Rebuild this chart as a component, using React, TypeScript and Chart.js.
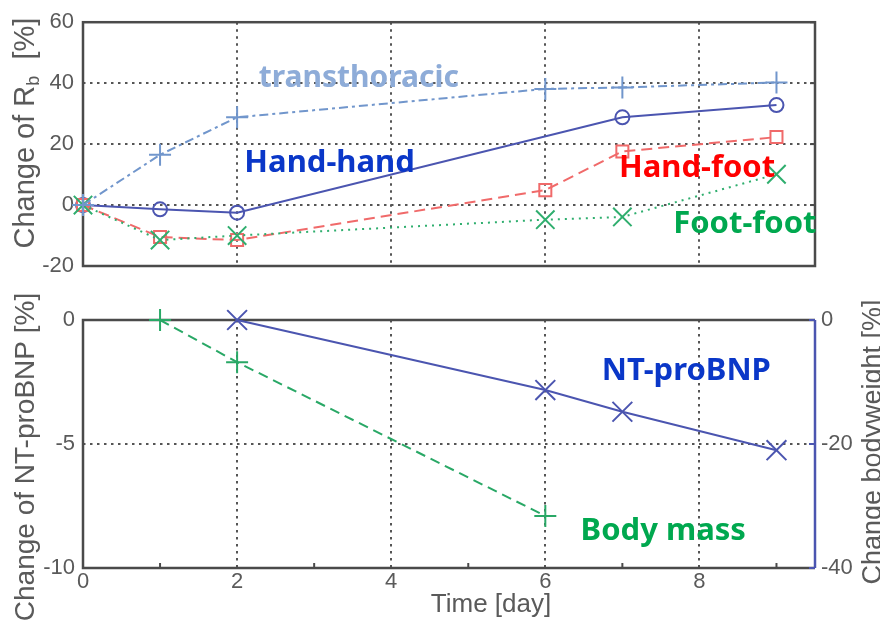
import React, { useEffect, useRef } from "react";
import { Chart, registerables } from "chart.js";

Chart.register(...registerables);

// ---------------- data ----------------
const topDays = [0, 1, 2, 6, 7, 9];
const transthoracic = [0, 16.5, 28.8, 38.1, 38.6, 40.2];
const handHand: (number | null)[] = [0, -1.4, -2.5, null, 28.8, 32.8];
const handFoot = [0, -10.5, -11.5, 4.9, 17.6, 22.3];
const footFoot = [0, -11.5, -10, -4.8, -3.9, 10.1];

const bodyMassDays = [1, 2, 6];
const bodyMass = [0, -1.7, -7.9];
const ntDays = [2, 6, 7, 9];
const ntProBNP = [0, -11.3, -14.8, -21];

const xTickValues = [0, 2, 4, 6, 8];
const xMinorTickValues = [1, 3, 5, 7, 9];
const topYTickValues = [-20, 0, 20, 40, 60];
const leftYTickValues = [-10, -5, 0];
const rightYTickValues = [-40, -20, 0];

const topLabelTexts = ["transthoracic", "Hand-hand", "Hand-foot", "Foot-foot"];
const topLabelX = [3.58, 3.2, 7.97, 8.59];
const topLabelY = [38.9, 10.7, 9.1, -9.1];
const topLabelSizes = [30, 31, 31, 31];
const bottomLabelTexts = ["NT-proBNP", "Body mass"];
const bottomLabelX = [7.83, 7.53];
const bottomLabelY = [-2.42, -8.87];
const bottomLabelSizes = [31, 31];

// ---------------- styles ----------------
const FONT = "'Liberation Sans', Arial, Helvetica, sans-serif";
const LABEL_FAMILY = "'Noto Sans', 'Open Sans', sans-serif";
const AXIS = "#4a4a4a";
const GRID = "#555555";
const TEXT = "#5a5a5a";
const C_TRANS = "#7196cc";
const C_HH = "#4b55b0";
const C_HF = "#f06a6a";
const C_FF = "#2fae6e";
const C_BM = "#29a866";
const C_NT = "#4b55b0";
const topLabelColors = ["#8eacd8", "#0a37c8", "#ff0000", "#00a84f"];
const bottomLabelColors = ["#0a37c8", "#00a84f"];

const pts = (xs: number[], ys: (number | null)[]) =>
  xs.map((x, i) => ({ x, y: ys[i] })).filter((p) => p.y !== null) as { x: number; y: number }[];

const setTicks = (vals: number[]) => (s: any) => {
  s.ticks = vals.map((v) => ({ value: v }));
};

const gridOpts = { color: GRID, lineWidth: 2, drawTicks: false };
const dotted = { display: false, dash: [2.5, 4.5] };

function drawRotatedTitle(ctx: CanvasRenderingContext2D, x: number, cy: number, parts: { t: string; size: number; dy: number }[]) {
  ctx.save();
  ctx.translate(x, cy);
  ctx.rotate(-Math.PI / 2);
  ctx.fillStyle = TEXT;
  ctx.textAlign = "left";
  ctx.textBaseline = "alphabetic";
  let total = 0;
  const widths = parts.map((p) => {
    ctx.font = `${p.size}px ${FONT}`;
    const w = ctx.measureText(p.t).width;
    total += w;
    return w;
  });
  let px = -total / 2;
  parts.forEach((p, i) => {
    ctx.font = `${p.size}px ${FONT}`;
    ctx.fillText(p.t, px, p.dy);
    px += widths[i];
  });
  ctx.restore();
}

function drawLabels(chart: any, texts: string[], xs: number[], ys: number[], colors: string[], sizes: number[], yId: string) {
  const { ctx } = chart;
  const xs_ = chart.scales.x;
  const ys_ = chart.scales[yId];
  ctx.save();
  ctx.textAlign = "center";
  ctx.textBaseline = "alphabetic";
  texts.forEach((t, i) => {
    ctx.font = `bold ${sizes[i]}px ${LABEL_FAMILY}`;
    ctx.fillStyle = colors[i];
    ctx.fillText(t, xs_.getPixelForValue(xs[i]), ys_.getPixelForValue(ys[i]));
  });
  ctx.restore();
}

const topDecor = {
  id: "topDecor",
  beforeDatasetsDraw(chart: any) {
    const { ctx, chartArea: a } = chart;
    ctx.save();
    ctx.strokeStyle = AXIS;
    ctx.lineWidth = 2.5;
    ctx.strokeRect(a.left, a.top, a.right - a.left, a.bottom - a.top);
    ctx.lineWidth = 2;
    const y = chart.scales.y;
    topYTickValues.forEach((v) => {
      const py = y.getPixelForValue(v);
      ctx.beginPath();
      ctx.moveTo(a.right, py);
      ctx.lineTo(a.right - 5, py);
      ctx.stroke();
    });
    ctx.restore();
  },
  afterDatasetsDraw(chart: any) {
    drawLabels(chart, topLabelTexts, topLabelX, topLabelY, topLabelColors, topLabelSizes, "y");
  },
  afterDraw(chart: any) {
    const a = chart.chartArea;
    drawRotatedTitle(chart.ctx, 34, (a.top + a.bottom) / 2 - 11, [
      { t: "Change of R", size: 29, dy: 0 },
      { t: "b", size: 18, dy: 5 },
      { t: "  [%]", size: 29, dy: 0 },
    ]);
  },
};

const bottomDecor = {
  id: "bottomDecor",
  beforeDatasetsDraw(chart: any) {
    const { ctx, chartArea: a } = chart;
    ctx.save();
    ctx.strokeStyle = AXIS;
    ctx.lineWidth = 2.5;
    ctx.beginPath();
    ctx.moveTo(a.right, a.top);
    ctx.lineTo(a.left, a.top);
    ctx.lineTo(a.left, a.bottom);
    ctx.lineTo(a.right, a.bottom);
    ctx.stroke();
    ctx.strokeStyle = C_NT;
    ctx.beginPath();
    ctx.moveTo(a.right, a.top);
    ctx.lineTo(a.right, a.bottom);
    ctx.stroke();
    ctx.strokeStyle = AXIS;
    ctx.lineWidth = 2;
    const x = chart.scales.x;
    xMinorTickValues.forEach((v) => {
      const px = x.getPixelForValue(v);
      ctx.beginPath();
      ctx.moveTo(px, a.bottom);
      ctx.lineTo(px, a.bottom - 5);
      ctx.stroke();
    });
    ctx.strokeStyle = C_NT;
    const yR = chart.scales.yR;
    rightYTickValues.forEach((v) => {
      const py = yR.getPixelForValue(v);
      ctx.beginPath();
      ctx.moveTo(a.right, py);
      ctx.lineTo(a.right - 6, py);
      ctx.stroke();
    });
    ctx.restore();
  },
  afterDatasetsDraw(chart: any) {
    drawLabels(chart, bottomLabelTexts, bottomLabelX, bottomLabelY, bottomLabelColors, bottomLabelSizes, "yL");
  },
  afterDraw(chart: any) {
    const { ctx, chartArea: a } = chart;
    drawRotatedTitle(ctx, 34, (a.top + a.bottom) / 2 + 13, [{ t: "Change of NT-proBNP [%]", size: 28, dy: 0 }]);
    drawRotatedTitle(ctx, 881, (a.top + a.bottom) / 2 - 2, [{ t: "Change bodyweight [%]", size: 27, dy: 0 }]);
    ctx.save();
    ctx.font = `26px ${FONT}`;
    ctx.fillStyle = TEXT;
    ctx.textAlign = "center";
    ctx.textBaseline = "alphabetic";
    ctx.fillText("Time [day]", 491, 322);
    ctx.restore();
  },
};

const lineDs = (label: string, data: any[], color: string, dash: number[], style: string, radius: number, yAxisID = "y") => ({
  label,
  data,
  yAxisID,
  borderColor: color,
  borderWidth: 2,
  borderDash: dash,
  pointStyle: style,
  pointRadius: radius,
  pointBorderColor: color,
  pointBorderWidth: 2,
  pointBackgroundColor: "rgba(0,0,0,0)",
  tension: 0,
  spanGaps: true,
  clip: false as any,
});

export default function App() {
  const topRef = useRef<HTMLCanvasElement>(null);
  const botRef = useRef<HTMLCanvasElement>(null);

  useEffect(() => {
    Chart.defaults.font.family = FONT;
    const tickFont = { size: 22, family: FONT };
    const top = new Chart(topRef.current!, {
      type: "line",
      data: {
        datasets: [
          lineDs("transthoracic", pts(topDays, transthoracic), C_TRANS, [9, 4, 3, 4], "cross", 11),
          lineDs("Foot-foot", pts(topDays, footFoot), C_FF, [2, 5], "crossRot", 13),
          lineDs("Hand-foot", pts(topDays, handFoot), C_HF, [11, 6], "rect", 8.5),
          lineDs("Hand-hand", pts(topDays, handHand), C_HH, [], "circle", 7),
        ] as any,
      },
      options: {
        responsive: false,
        animation: false,
        layout: { padding: { left: 0, right: 65, top: 16, bottom: 24 } },
        plugins: { legend: { display: false }, tooltip: { enabled: false } },
        scales: {
          x: {
            type: "linear",
            min: 0,
            max: 9.5,
            afterBuildTicks: setTicks(xTickValues),
            ticks: { display: false },
            grid: gridOpts,
            border: dotted,
            afterFit: (s: any) => {
              s.height = 0;
            },
          },
          y: {
            type: "linear",
            min: -20,
            max: 60,
            afterBuildTicks: setTicks(topYTickValues),
            ticks: { color: TEXT, font: tickFont, padding: 9 },
            grid: gridOpts,
            border: dotted,
            afterFit: (s: any) => {
              s.width = 83;
            },
          },
        },
      } as any,
      plugins: [topDecor],
    });

    const bot = new Chart(botRef.current!, {
      type: "line",
      data: {
        datasets: [
          lineDs("Body mass", pts(bodyMassDays, bodyMass), C_BM, [10, 6], "cross", 11, "yL"),
          lineDs("NT-proBNP", pts(ntDays, ntProBNP), C_NT, [], "crossRot", 14, "yR"),
        ] as any,
      },
      options: {
        responsive: false,
        animation: false,
        layout: { padding: { left: 0, right: 0, top: 30, bottom: 0 } },
        plugins: { legend: { display: false }, tooltip: { enabled: false } },
        scales: {
          x: {
            type: "linear",
            min: 0,
            max: 9.5,
            afterBuildTicks: setTicks(xTickValues),
            ticks: { color: TEXT, font: tickFont, padding: 1, maxRotation: 0 },
            grid: gridOpts,
            border: dotted,
            afterFit: (s: any) => {
              s.height = 60;
            },
          },
          yL: {
            type: "linear",
            position: "left",
            min: -10,
            max: 0,
            afterBuildTicks: setTicks(leftYTickValues),
            ticks: { color: TEXT, font: tickFont, padding: 8 },
            grid: gridOpts,
            border: dotted,
            afterFit: (s: any) => {
              s.width = 83;
            },
          },
          yR: {
            type: "linear",
            position: "right",
            min: -40,
            max: 0,
            afterBuildTicks: setTicks(rightYTickValues),
            ticks: { color: TEXT, font: tickFont, padding: 6 },
            grid: { display: false, drawTicks: false },
            border: { display: false },
            afterFit: (s: any) => {
              s.width = 65;
            },
          },
        },
      } as any,
      plugins: [bottomDecor],
    });

    return () => {
      top.destroy();
      bot.destroy();
    };
  }, []);

  return (
    <div style={{ position: "absolute", left: 0, top: 0, width: 880, height: 628, background: "#fff", overflow: "hidden" }}>
      <canvas ref={topRef} width={880} height={290} style={{ position: "absolute", left: 0, top: 0 }} />
      <canvas ref={botRef} width={880} height={338} style={{ position: "absolute", left: 0, top: 290 }} />
    </div>
  );
}
